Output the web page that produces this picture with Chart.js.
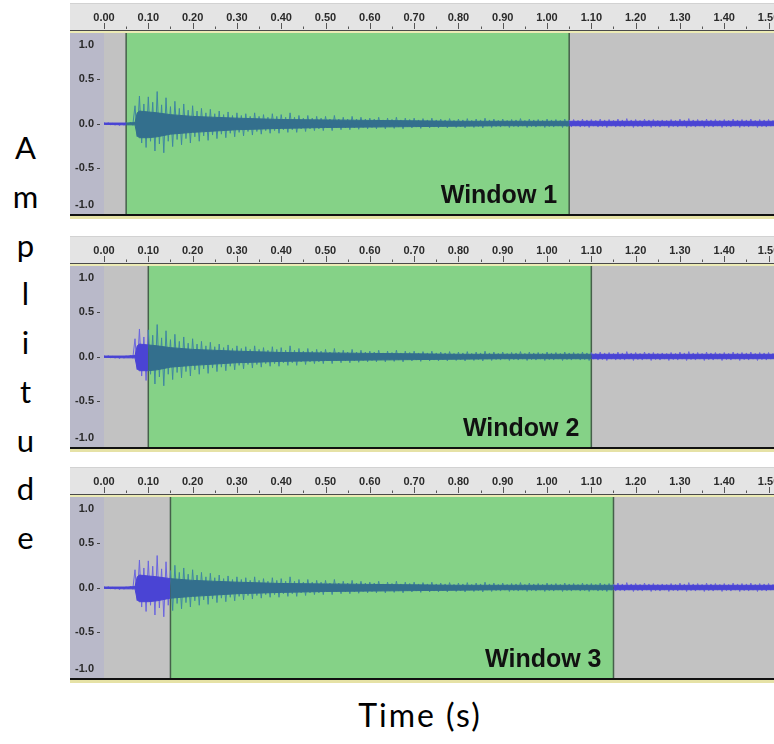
<!DOCTYPE html>
<html>
<head>
<meta charset="utf-8">
<script src="https://cdn.jsdelivr.net/npm/chart.js@4.4.1/dist/chart.umd.min.js"></script>
<style>
  html, body { margin: 0; padding: 0; background: #fff; }
  body { position: relative; width: 774px; height: 744px; overflow: hidden; }
  .panel { position: absolute; left: 70px; width: 740px; height: 216px; }
  #ampTitle {
    position: absolute; left: 0; top: 123px; width: 51px;
    font-family: "Lato", sans-serif; font-size: 31px; line-height: 48.75px;
    text-align: center; color: #000;
  }
  #timeTitle {
    position: absolute; left: 300px; top: 697px; width: 240px;
    font-family: "Lato", sans-serif; font-size: 32px; line-height: 36px;
    letter-spacing: 2px; text-align: center; color: #000;
  }
</style>
</head>
<body>
<div id="ampTitle">A<br>m<br>p<br>l<br>i<br>t<br>u<br>d<br>e</div>
<div class="panel" style="top:3px"><canvas id="win1" width="740" height="216"></canvas></div>
<div class="panel" style="top:236px"><canvas id="win2" width="740" height="216"></canvas></div>
<div class="panel" style="top:467px"><canvas id="win3" width="740" height="216"></canvas></div>
<div id="timeTitle">Time (s)</div>

<script>
// Fenster (Sekunden)
const windowLabels = ['Window 1', 'Window 2', 'Window 3'];
const windowStart = [0.05, 0.10, 0.15];
const windowEnd = [1.05, 1.10, 1.15];

// Amplitudenachse
const ampTicks = [1.0, 0.5, 0.0, -0.5, -1.0];

// Spitzen der Wellenform, alle 0.01 s ab 0.00 s (oben, dann unten)
const sampleStep = 0.01;
const peakHigh = [
  0.01, 0.01, 0.005, 0.005, 0.005, 0.01, 0.015, 0.20, 0.31, 0.22,
  0.30, 0.24, 0.36, 0.21, 0.29, 0.19, 0.25, 0.17, 0.22, 0.15,
  0.20, 0.14, 0.17, 0.12, 0.16, 0.11, 0.14, 0.10, 0.13, 0.09,
  0.12, 0.09, 0.11, 0.08, 0.12, 0.08, 0.10, 0.07, 0.11, 0.08,
  0.10, 0.07, 0.12, 0.07, 0.09, 0.06, 0.09, 0.06, 0.08, 0.06,
  0.08, 0.05, 0.09, 0.05, 0.07, 0.05, 0.08, 0.05, 0.07, 0.05,
  0.06, 0.05, 0.07, 0.04, 0.06, 0.045, 0.07, 0.04, 0.06, 0.045,
  0.06, 0.04, 0.055, 0.04, 0.06, 0.04, 0.05, 0.04, 0.055, 0.035,
  0.05, 0.04, 0.055, 0.035, 0.05, 0.04, 0.06, 0.04, 0.05, 0.035,
  0.05, 0.035, 0.045, 0.04, 0.055, 0.035, 0.05, 0.04, 0.045, 0.035,
  0.05, 0.04, 0.045, 0.035, 0.05, 0.04, 0.045, 0.035, 0.05, 0.04,
  0.045, 0.035, 0.05, 0.04, 0.045, 0.035, 0.05, 0.04, 0.055, 0.04,
  0.045, 0.035, 0.05, 0.04, 0.045, 0.035, 0.04, 0.035, 0.045, 0.035,
  0.05, 0.04, 0.055, 0.04, 0.045, 0.035, 0.05, 0.04, 0.045, 0.035,
  0.045, 0.035, 0.05, 0.04, 0.045, 0.04, 0.05, 0.035, 0.045, 0.04,
  0.045, 0.035, 0.04
];
const peakLow = [
  -0.01, -0.015, -0.02, -0.025, -0.02, -0.015, -0.02, -0.15, -0.22, -0.27,
  -0.20, -0.31, -0.23, -0.33, -0.20, -0.26, -0.18, -0.24, -0.17, -0.22,
  -0.15, -0.20, -0.14, -0.19, -0.13, -0.17, -0.12, -0.16, -0.11, -0.15,
  -0.10, -0.14, -0.09, -0.13, -0.09, -0.12, -0.08, -0.11, -0.08, -0.11,
  -0.07, -0.10, -0.07, -0.10, -0.06, -0.09, -0.06, -0.08, -0.06, -0.08,
  -0.05, -0.08, -0.05, -0.07, -0.05, -0.07, -0.05, -0.065, -0.045, -0.06,
  -0.045, -0.06, -0.04, -0.06, -0.04, -0.055, -0.04, -0.06, -0.035, -0.05,
  -0.04, -0.055, -0.035, -0.05, -0.04, -0.05, -0.035, -0.05, -0.03, -0.045,
  -0.035, -0.05, -0.03, -0.045, -0.035, -0.05, -0.03, -0.045, -0.035, -0.04,
  -0.03, -0.045, -0.035, -0.04, -0.03, -0.045, -0.035, -0.04, -0.03, -0.045,
  -0.035, -0.04, -0.03, -0.045, -0.035, -0.04, -0.03, -0.04, -0.035, -0.045,
  -0.03, -0.04, -0.035, -0.045, -0.03, -0.04, -0.035, -0.04, -0.03, -0.045,
  -0.035, -0.04, -0.03, -0.045, -0.035, -0.04, -0.03, -0.045, -0.035, -0.04,
  -0.03, -0.045, -0.035, -0.04, -0.03, -0.045, -0.035, -0.04, -0.03, -0.045,
  -0.035, -0.04, -0.03, -0.045, -0.035, -0.04, -0.03, -0.045, -0.035, -0.04,
  -0.03, -0.04, -0.035
];
const sampleTimes = peakHigh.map((_, i) => +(i * sampleStep).toFixed(2));

// dichter Kern der Wellenform
const coreTimes = [0, 0.05, 0.07, 0.075, 0.08, 0.10, 0.12, 0.15, 0.20, 0.30, 0.40, 0.50,
  0.60, 0.70, 0.80, 0.90, 1.00, 1.05, 1.10, 1.15, 1.20, 1.30, 1.40, 1.52];
const coreHigh = [0.005, 0.005, 0.01, 0.12, 0.14, 0.13, 0.12, 0.10, 0.08, 0.06, 0.045, 0.04,
  0.035, 0.03, 0.025, 0.025, 0.025, 0.025, 0.025, 0.025, 0.025, 0.025, 0.025, 0.025];
const coreLow = [-0.01, -0.015, -0.015, -0.14, -0.16, -0.16, -0.15, -0.12, -0.10, -0.07, -0.055, -0.045,
  -0.04, -0.035, -0.03, -0.025, -0.025, -0.025, -0.025, -0.025, -0.025, -0.025, -0.025, -0.025];

const blueCore = '#4a44d4', blueSpike = '#6a64e0';
const tealCore = '#336f8d', tealSpike = '#3f86a2';
const greenSel = 'rgb(133, 210, 135)';

function waveDatasets(start, end) {
  const inWin = c => c.p0.parsed.x >= start - 1e-6 && c.p1.parsed.x <= end + 1e-6;
  const pick = (a, b) => c => inWin(c) ? a : b;
  const coreSeg = { borderColor: pick(tealCore, blueCore), backgroundColor: pick(tealCore, blueCore) };
  const spikeSeg = { borderColor: pick(tealSpike, blueSpike) };
  const base = { borderWidth: 1, pointRadius: 0, tension: 0 };
  // Schwingung: je Zeitpunkt oberer Ausschlag, eine halbe Stufe später unterer
  const swing = sampleTimes.flatMap((t, i) => [
    { x: t, y: peakHigh[i] },
    { x: t + sampleStep / 2, y: peakLow[i] }
  ]);
  return [
    { ...base, data: coreTimes.map((t, i) => ({ x: t, y: coreHigh[i] })), borderColor: blueCore, segment: coreSeg, fill: false },
    { ...base, data: coreTimes.map((t, i) => ({ x: t, y: coreLow[i] })), borderColor: blueCore, backgroundColor: blueCore, segment: coreSeg, fill: '-1' },
    { ...base, data: swing, borderColor: blueSpike, segment: spikeSeg, fill: false }
  ];
}

// Audacity-Look: Lineal, Spur, Auswahlfenster
function audacityLook(idx) {
  return {
    id: 'audacityLook',
    beforeDraw(chart) {
      const { ctx, chartArea: a, scales: { x } } = chart;
      const w = chart.width;
      ctx.save();
      ctx.fillStyle = '#e4e4e4';
      ctx.fillRect(0, 0, w, 27);
      ctx.fillStyle = '#d2d2d2';
      ctx.fillRect(0, 0, w, 1);
      ctx.fillStyle = '#4a4a4a';
      ctx.fillRect(0, 27, w, 1);
      ctx.fillStyle = '#ecebb5';
      ctx.fillRect(0, 28, w, 2);
      ctx.fillStyle = '#b9b9c9';
      ctx.fillRect(0, a.top, a.left, a.bottom - a.top);
      ctx.fillStyle = '#c2c2c2';
      ctx.fillRect(a.left, a.top, w - a.left, a.bottom - a.top);
      ctx.fillStyle = '#111';
      ctx.fillRect(0, a.bottom, w, 2);
      ctx.fillStyle = '#e6e2a6';
      ctx.fillRect(0, a.bottom + 2, w, 3);
      // Lineal-Striche
      ctx.strokeStyle = '#555';
      ctx.lineWidth = 1;
      x.ticks.forEach(t => {
        const px = Math.round(x.getPixelForValue(t.value)) + 0.5;
        const mx = Math.round(x.getPixelForValue(t.value + 0.05)) + 0.5;
        ctx.beginPath();
        ctx.moveTo(px, 20); ctx.lineTo(px, 26);
        ctx.moveTo(mx, 23.5); ctx.lineTo(mx, 26);
        ctx.stroke();
      });
      ctx.restore();
    },
    beforeDatasetsDraw(chart) {
      const { ctx, chartArea: a, scales: { x } } = chart;
      const x0 = x.getPixelForValue(windowStart[idx]);
      const x1 = x.getPixelForValue(windowEnd[idx]);
      ctx.save();
      ctx.fillStyle = greenSel;
      ctx.fillRect(x0, a.top, x1 - x0, a.bottom - a.top);
      ctx.strokeStyle = '#45604a';
      ctx.lineWidth = 1.5;
      ctx.beginPath();
      ctx.moveTo(x0, a.top); ctx.lineTo(x0, a.bottom);
      ctx.moveTo(x1, a.top); ctx.lineTo(x1, a.bottom);
      ctx.stroke();
      ctx.restore();
    },
    afterDatasetsDraw(chart) {
      const { ctx, chartArea: a, scales: { x, y } } = chart;
      ctx.save();
      // Fensterbeschriftung
      ctx.fillStyle = '#111';
      ctx.font = 'bold 25px "Liberation Sans", Arial, sans-serif';
      ctx.textAlign = 'right';
      ctx.textBaseline = 'alphabetic';
      ctx.fillText(windowLabels[idx], x.getPixelForValue(windowEnd[idx]) - 12, a.bottom - 11);
      // Amplitudenbeschriftung
      ctx.fillStyle = '#2a2a2a';
      ctx.font = 'bold 11px "Liberation Sans", Arial, sans-serif';
      ctx.textBaseline = 'middle';
      ctx.strokeStyle = '#444';
      ctx.lineWidth = 1;
      ampTicks.forEach(v => {
        let py = y.getPixelForValue(v);
        if (v >= 1) py += 10;
        else if (v <= -1) py -= 7;
        ctx.fillText(v.toFixed(1), 24, py);
        if (Math.abs(v) < 1) {
          ctx.beginPath();
          ctx.moveTo(27, Math.round(py) + 0.5);
          ctx.lineTo(30, Math.round(py) + 0.5);
          ctx.stroke();
        }
      });
      ctx.restore();
    }
  };
}

function makePanel(canvasId, idx) {
  return new Chart(document.getElementById(canvasId), {
    type: 'line',
    data: { datasets: waveDatasets(windowStart[idx], windowEnd[idx]) },
    options: {
      responsive: false,
      animation: false,
      layout: { padding: { left: 0, right: 6, top: 0, bottom: 5 } },
      plugins: { legend: { display: false }, tooltip: { enabled: false } },
      scales: {
        x: {
          type: 'linear', position: 'top', min: 0, max: 1.58,
          grid: { display: false }, border: { display: false },
          ticks: {
            stepSize: 0.1, includeBounds: false, autoSkip: false, maxRotation: 0,
            padding: 0, color: '#2a2a2a',
            font: { family: 'Liberation Sans', size: 11, weight: 'bold' },
            callback: v => v.toFixed(2)
          },
          afterFit(s) { s.height = 30; }
        },
        y: {
          min: -1.02, max: 1.02,
          ticks: { display: false }, grid: { display: false }, border: { display: false },
          afterFit(s) { s.width = 34; }
        }
      }
    },
    plugins: [audacityLook(idx)]
  });
}

makePanel('win1', 0);
makePanel('win2', 1);
makePanel('win3', 2);
</script>
</body>
</html>
